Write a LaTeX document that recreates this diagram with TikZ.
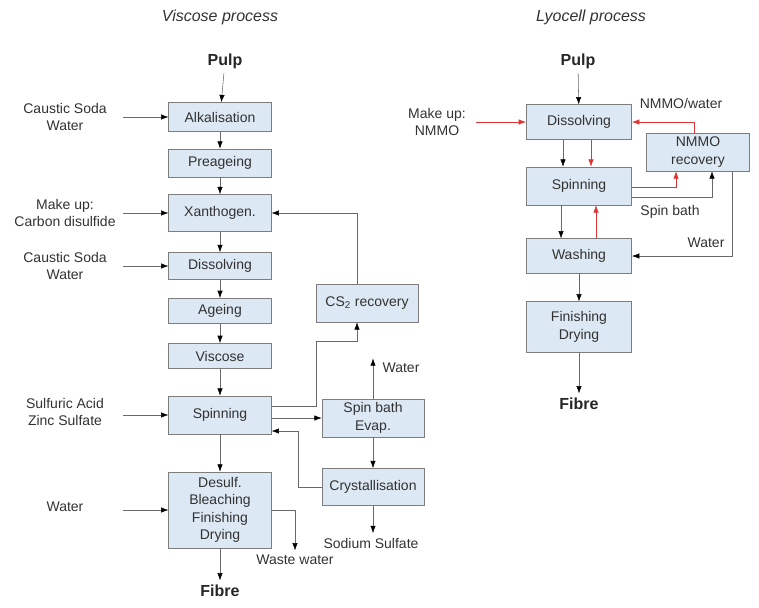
\documentclass[tikz,border=0pt]{standalone}
\usepackage{fontspec}
\setmainfont{Liberation Sans}
\usepackage{tikz}
\usetikzlibrary{positioning, arrows.meta, calc}

\definecolor{boxfill}{RGB}{220,232,243}
\definecolor{boxline}{RGB}{125,125,125}
\definecolor{lgray}{RGB}{105,105,105}
\definecolor{rline}{RGB}{222,52,52}
\definecolor{txt}{RGB}{50,50,50}

\begin{document}
\begin{tikzpicture}[x=0.75pt, y=-0.75pt,
    every node/.style={text=txt, font=\fontsize{10.5}{13}\selectfont, align=center},
    box/.style={draw=boxline, fill=boxfill, minimum width=77pt, inner sep=2pt},
    ttl/.style={font=\fontsize{12}{14}\selectfont\itshape},
    endp/.style={font=\fontsize{12}{14}\selectfont\bfseries, text=black!85},
    arr/.style={draw=lgray, -{Latex[length=5.5pt, width=4pt, color=black]}},
    rarr/.style={draw=rline, -{Latex[length=5.5pt, width=4pt]}}]
    \useasboundingbox (0,0) rectangle (759,607);

    % Viscose process
    \node[ttl] (tV) at (220,17) {Viscose process};
    \node[endp] (pulpV) at (225,61) {Pulp};
    \node[box, minimum height=21.75pt] (alk) at (220,117) {Alkalisation};
    \node[box, minimum height=21pt] (pre) at (220,163) {Preageing};
    \node[box, minimum height=27.75pt] (xan) at (220,213) {Xanthogen.};
    \node[box, minimum height=20.25pt] (dis) at (220,266) {Dissolving};
    \node[box, minimum height=19pt] (age) at (220,311) {Ageing};
    \node[box, minimum height=19pt] (vis) at (220,356) {Viscose};
    \node[box, minimum height=28.5pt] (spi) at (220,415) {Spinning};
    \node[box, minimum height=57pt] (des) at (220,510)
        {Desulf.\\Bleaching\\Finishing\\Drying};
    \node[endp] (fibV) at (220,591) {Fibre};
    \node[box, minimum width=76.5pt, minimum height=28.5pt] (cs2) at (367,303)
        {CS\textsubscript{2} recovery};
    \node[box, minimum width=76.5pt, minimum height=28.5pt] (sbe) at (373,418)
        {Spin bath\\Evap.};
    \node[box, minimum width=76.5pt, minimum height=27.75pt] (cry) at (373,487)
        {Crystallisation};
    \node (wV) at (401,368) {Water};
    \node (soda) at (371,543) {Sodium Sulfate};
    \node (waste) at (295,560) {Waste water};

    % inputs
    \coordinate (inV) at (123,0);
    \node (cs1) at (65,117) {Caustic Soda\\Water};
    \node (mu1) at (65,213) {Make up:\\Carbon disulfide};
    \node (cs2in) at (65,266) {Caustic Soda\\Water};
    \node (sul) at (65,412) {Sulfuric Acid\\Zinc Sulfate};
    \node (wat) at (65,507) {Water};
    \draw[arr] (alk.west -| inV) -- (alk.west);
    \draw[arr] (xan.west -| inV) -- (xan.west);
    \draw[arr] (dis.west -| inV) -- (dis.west);
    \draw[arr] (spi.west -| inV) -- (spi.west);
    \draw[arr] (des.west -| inV) -- (des.west);

    \draw[arr] (pulpV) -- (alk);
    \draw[arr] (alk) -- (pre);
    \draw[arr] (pre) -- (xan);
    \draw[arr] (xan) -- (dis);
    \draw[arr] (dis) -- (age);
    \draw[arr] (age) -- (vis);
    \draw[arr] (vis) -- (spi);
    \draw[arr] (spi) -- (des);
    \draw[arr] (des) -- (fibV);

    \coordinate (bendA) at (316,341);
    \draw[arr] ($(cs2.north)+(-10,0)$) |- (xan.east);
    \draw[arr] ($(spi.east)+(0,-9)$) -| (bendA) -| ($(cs2.south)+(-10,0)$);
    \draw[arr] (spi.east |- sbe.west) -- (sbe.west);
    \draw[arr] (cry.west) -| ($(spi.east)+(27,16)$) -- ($(spi.east)+(0,16)$);
    \draw[arr] (sbe) -- (cry);
    \draw[arr] (sbe.north) -- (sbe.north |- wV.north);
    \draw[arr] (cry) -- (cry |- soda.north);
    \draw[arr] (des.east) -| (waste.north);

    % Lyocell process
    \node[ttl] (tL) at (591,17) {Lyocell process};
    \node[endp] (pulpL) at (578,61) {Pulp};
    \node[box, minimum width=79pt, minimum height=26pt] (ldis) at (579,122) {Dissolving};
    \node[box, minimum height=28.5pt] (nmmo) at (698,152) {NMMO\\recovery};
    \node[box, minimum width=79pt, minimum height=28.5pt] (lspi) at (579,186) {Spinning};
    \node[box, minimum width=79pt, minimum height=26pt] (lwas) at (579,256) {Washing};
    \node[box, minimum width=79pt, minimum height=38pt] (lfin) at (579,327)
        {Finishing\\Drying};
    \node[endp] (fibL) at (579,404) {Fibre};
    \node (muL) at (437,122) {Make up:\\NMMO};
    \node (nwL) at (681,103) {NMMO/water};
    \node (sbL) at (670,212) {Spin bath};
    \node (waL) at (706,243) {Water};

    \coordinate (inL) at (476,0);
    \draw[arr] (pulpL) -- (ldis);
    \draw[rarr] (ldis.west -| inL) -- (ldis.west);
    \draw[rarr] ($(nmmo.north)+(-4,0)$) |- (ldis.east);
    \draw[arr] ($(ldis.south)+(-16,0)$) -- ($(lspi.north)+(-16,0)$);
    \draw[rarr] ($(ldis.south)+(12,0)$) -- ($(lspi.north)+(12,0)$);
    \draw[rarr] ($(lspi.east)+(0,1)$) -| ($(nmmo.south)+(-22,0)$);
    \draw[arr] ($(lspi.east)+(0,11)$) -| ($(nmmo.south)+(14,0)$);
    \draw[arr] ($(lspi.south)+(-18,0)$) -- ($(lwas.north)+(-18,0)$);
    \draw[rarr] ($(lwas.north)+(17,0)$) -- ($(lspi.south)+(17,0)$);
    \draw[arr] ($(nmmo.south)+(34,0)$) |- (lwas.east);
    \draw[arr] (lwas) -- (lfin);
    \draw[arr] (lfin) -- (fibL);
\end{tikzpicture}
\end{document}
